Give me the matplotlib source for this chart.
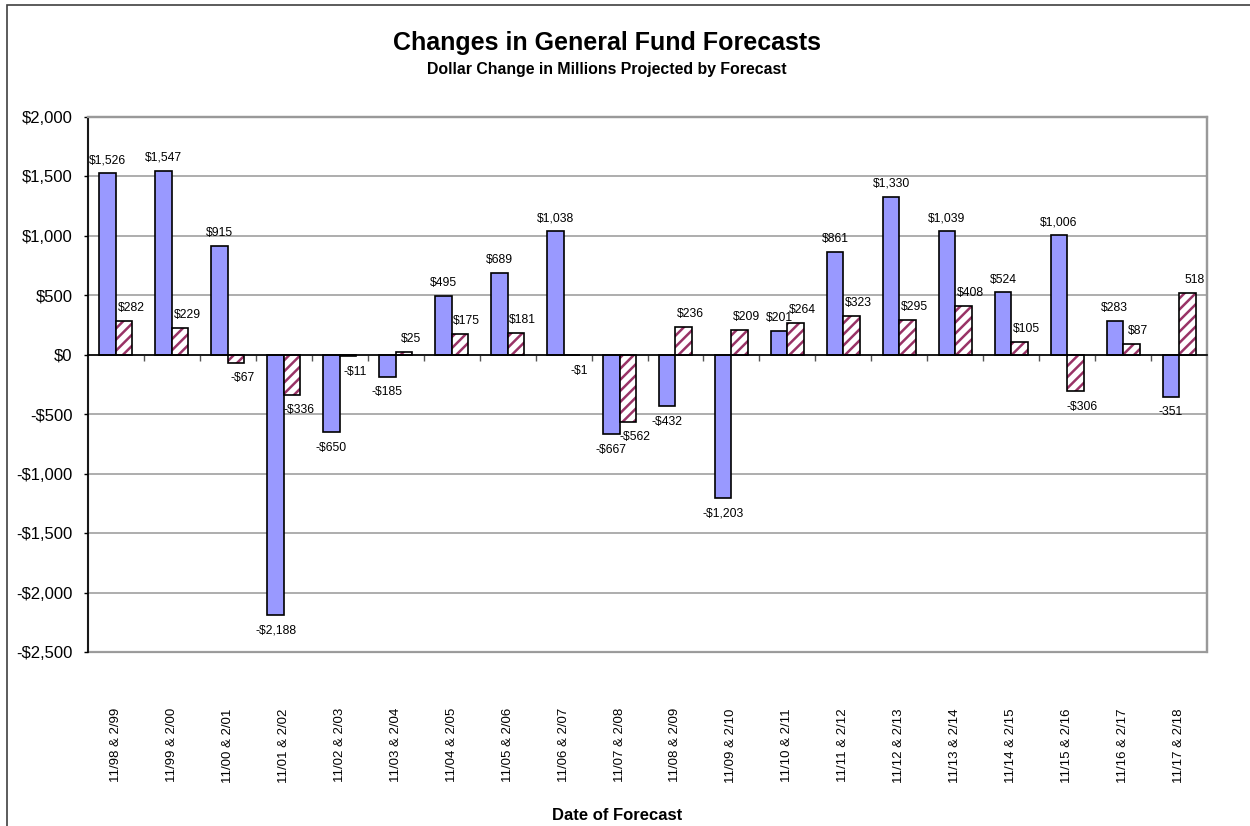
import matplotlib
matplotlib.use("Agg")
import matplotlib.pyplot as plt
import matplotlib.patches as mpatches
import numpy as np

plt.rcParams["font.family"] = ["Liberation Sans", "DejaVu Sans"]
plt.rcParams["hatch.linewidth"] = 1.8

# ── Data ──────────────────────────────────────────────────────────────
categories = [
    "11/98 & 2/99", "11/99 & 2/00", "11/00 & 2/01", "11/01 & 2/02",
    "11/02 & 2/03", "11/03 & 2/04", "11/04 & 2/05", "11/05 & 2/06",
    "11/06 & 2/07", "11/07 & 2/08", "11/08 & 2/09", "11/09 & 2/10",
    "11/10 & 2/11", "11/11 & 2/12", "11/12 & 2/13", "11/13 & 2/14",
    "11/14 & 2/15", "11/15 & 2/16", "11/16 & 2/17", "11/17 & 2/18",
]
nov_change = [1526, 1547, 915, -2188, -650, -185, 495, 689, 1038, -667,
              -432, -1203, 201, 861, 1330, 1039, 524, 1006, 283, -351]
feb_change = [282, 229, -67, -336, -11, 25, 175, 181, -1, -562,
              236, 209, 264, 323, 295, 408, 105, -306, 87, 518]
y_ticks = [-2500, -2000, -1500, -1000, -500, 0, 500, 1000, 1500, 2000]

BLUE = "#9999FF"
PLUM = "#993366"
GRID = "#A0A0A0"


def money(v):
    return f"-${abs(v):,}" if v < 0 else f"${v:,}"


nov_labels = [money(v) for v in nov_change]
feb_labels = [money(v) for v in feb_change]
# the last forecast pair is labelled without the dollar sign
nov_labels[-1] = f"{nov_change[-1]:,}"
feb_labels[-1] = f"{feb_change[-1]:,}"

# ── Figure ────────────────────────────────────────────────────────────
fig = plt.figure(figsize=(12.5, 8.26), dpi=100)
ax = fig.add_axes([88 / 1250, 1 - 652 / 826, 1119 / 1250, 535 / 826])

x = np.arange(len(categories))
w = 0.295

ax.bar(x - w / 2, nov_change, w, color=BLUE, edgecolor="black",
       linewidth=1.2, zorder=3)
# hatched series: stripes first, then black outline on top
ax.bar(x + w / 2, feb_change, w, color="white", edgecolor=PLUM,
       hatch="///", linewidth=0, zorder=3)
ax.bar(x + w / 2, feb_change, w, color="none", edgecolor="black",
       linewidth=1.2, zorder=4)

for xi, v, lab in zip(x - w / 2, nov_change, nov_labels):
    ax.annotate(lab, (xi, v), xytext=(0, 5 if v >= 0 else -7),
                textcoords="offset points", ha="center",
                va="bottom" if v >= 0 else "top", fontsize=8.7, zorder=5)
for xi, v, lab in zip(x + w / 2, feb_change, feb_labels):
    ax.annotate(lab, (xi, v), xytext=(5, 5 if v >= 0 else -7),
                textcoords="offset points", ha="center",
                va="bottom" if v >= 0 else "top", fontsize=8.7, zorder=5)

ax.set_xlim(-0.5, len(categories) - 0.5)
ax.set_ylim(y_ticks[0], y_ticks[-1])
ax.set_yticks(y_ticks)
ax.set_yticklabels([money(v) for v in y_ticks], fontsize=12)
ax.tick_params(axis="y", length=3, width=1, pad=8, direction="out")
ax.yaxis.grid(True, color=GRID, linewidth=1.2, zorder=0)
ax.set_axisbelow(True)

# category axis sits on the zero line, ticks between categories
ax.spines["bottom"].set_position(("data", 0))
ax.spines["bottom"].set_color("black")
ax.spines["bottom"].set_linewidth(1.2)
ax.spines["bottom"].set_zorder(4)
ax.set_xticks(x)
ax.set_xticklabels([])
ax.set_xticks(x[:-1] + 0.5, minor=True)
ax.tick_params(axis="x", which="major", length=0)
ax.tick_params(axis="x", which="minor", length=4, width=1, color="#555555",
               direction="out")
ax.spines["left"].set_color("black")
ax.spines["left"].set_linewidth(1.2)
for side in ("top", "right"):
    ax.spines[side].set_color("#999999")
    ax.spines[side].set_linewidth(1.6)
ax.add_patch(mpatches.Rectangle((0, 0), 1, 1, transform=ax.transAxes,
                                fill=False, edgecolor="#999999",
                                linewidth=1.6, clip_on=False, zorder=0.5))

for xi, lab in zip(x, categories):
    ax.text(xi, -0.105, lab, transform=ax.get_xaxis_transform(),
            rotation=90, ha="center", va="top", fontsize=9.5)

fig.text(607 / 1250, 1 - 50 / 826, "Changes in General Fund Forecasts",
         ha="center", va="baseline", fontsize=18, fontweight="bold")
fig.text(607 / 1250, 1 - 74 / 826,
         "Dollar Change in Millions Projected by Forecast",
         ha="center", va="baseline", fontsize=11.4, fontweight="bold")
fig.text(617 / 1250, 1 - 820 / 826, "Date of Forecast",
         ha="center", va="baseline", fontsize=12, fontweight="bold")

# outer chart-area border (runs off the right and bottom edges)
fig.add_artist(mpatches.Rectangle((7 / 1250, -0.1), 1.2, 1.1 - 5 / 826,
                                  transform=fig.transFigure, fill=False,
                                  edgecolor="#404040", linewidth=1.2))

fig.savefig("out.png", dpi=100)
